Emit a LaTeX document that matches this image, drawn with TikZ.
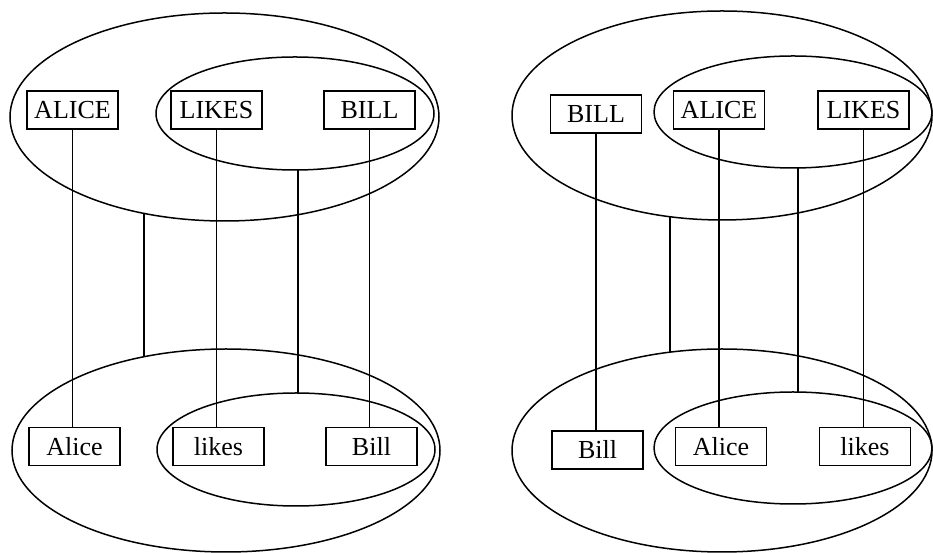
\documentclass[tikz,border=0pt]{standalone}
\usepackage{fontspec}
\setmainfont{Liberation Serif}
\usetikzlibrary{shapes.geometric}
\tikzset{
  word/.style={draw, line width=1.5pt, minimum width=91pt, minimum height=38pt,
    inner sep=0pt, font=\fontsize{26}{30}\selectfont},
  group/.style={draw, ellipse, line width=1.5pt, inner sep=0pt},
  link/.style={line width=1.5pt},
}
% point on the lower (-) or upper (+) half of an ellipse at abscissa x
% arguments: name, x, cy, ry, cx, rx, sign
\newcommand{\onell}[7]{\coordinate (#1) at (#2, {#3 #7 #4*sqrt(1-((#2-#5)/#6)^2)});}
\begin{document}
\begin{tikzpicture}[x=1pt, y=1pt]
\useasboundingbox (0,0) rectangle (933,553);

% ---------- left tree ----------
\node[group, minimum width=429pt, minimum height=208pt] (LTo) at (224.5,436) {};
\node[group, minimum width=278pt, minimum height=113pt] (LTi) at (295,439.5) {};
\node[group, minimum width=428pt, minimum height=203pt] (LBo) at (226,102.5) {};
\node[group, minimum width=278pt, minimum height=113pt] (LBi) at (296,103.5) {};

\node[word] (lA) at (72.5,443) {ALICE};
\node[word] (lL) at (216.5,443) {LIKES};
\node[word] (lB) at (369.5,443) {BILL};
\node[word] (la) at (74.5,106.5) {Alice};
\node[word] (ll) at (218.5,106.5) {likes};
\node[word] (lb) at (371.5,106.5) {Bill};

\draw[link] (lA.south) -- (lA.south |- la.north);
\draw[link] (lL.south) -- (lL.south |- ll.north);
\draw[link] (lB.south) -- (lB.south |- lb.north);

\onell{LTo-b}{144}{436}{104}{224.5}{214.5}{-}
\onell{LBo-t}{144}{102.5}{101.5}{226}{214}{+}
\onell{LTi-b}{298}{439.5}{56.5}{295}{139}{-}
\onell{LBi-t}{298}{103.5}{56.5}{296}{139}{+}
\draw[link] (LTo-b) -- (LBo-t);
\draw[link] (LTi-b) -- (LBi-t);

% ---------- right tree ----------
\node[group, minimum width=420pt, minimum height=209pt] (RTo) at (722,437.5) {};
\node[group, minimum width=278pt, minimum height=112pt] (RTi) at (793,441) {};
\node[group, minimum width=420pt, minimum height=203pt] (RBo) at (722,102.5) {};
\node[group, minimum width=278pt, minimum height=112pt] (RBi) at (793,105) {};

\node[word] (rB) at (596,439) {BILL};
\node[word] (rA) at (719,443) {ALICE};
\node[word] (rL) at (863.5,443) {LIKES};
\node[word] (rb) at (597.5,103) {Bill};
\node[word] (ra) at (721,106.5) {Alice};
\node[word] (rl) at (865,106.5) {likes};

\draw[link] (rB.south) -- (rB.south |- rb.north);
\draw[link] (rA.south) -- (rA.south |- ra.north);
\draw[link] (rL.south) -- (rL.south |- rl.north);

\onell{RTo-b}{670}{437.5}{104.5}{722}{210}{-}
\onell{RBo-t}{670}{102.5}{101.5}{722}{210}{+}
\onell{RTi-b}{798}{441}{56}{793}{139}{-}
\onell{RBi-t}{798}{105}{56}{793}{139}{+}
\draw[link] (RTo-b) -- (RBo-t);
\draw[link] (RTi-b) -- (RBi-t);
\end{tikzpicture}
\end{document}
